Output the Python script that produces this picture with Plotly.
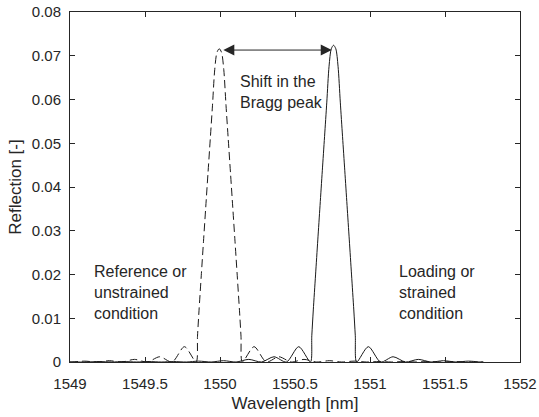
import plotly.graph_objects as go

# ---------------- data ----------------
# Solid curve: loading / strained condition
strained_wl = [
    1549.000, 1549.111, 1549.194, 1549.277, 1549.360, 1549.443, 1549.526, 1549.609,
    1549.692, 1549.775, 1549.858, 1549.941, 1550.024, 1550.107, 1550.192, 1550.277,
    1550.360, 1550.443, 1550.525,
    1550.603, 1550.612, 1550.622, 1550.637, 1550.652, 1550.667, 1550.682, 1550.697,
    1550.712, 1550.727, 1550.742, 1550.757, 1550.772, 1550.787, 1550.802, 1550.817,
    1550.832, 1550.847, 1550.862, 1550.877, 1550.892, 1550.902, 1550.911,
    1550.989, 1551.071, 1551.154, 1551.237, 1551.322, 1551.407, 1551.490, 1551.573,
    1551.656, 1551.739, 1551.755,
]
strained_r = [
    0.0000, 0.0000, 0.0001, 0.0000, 0.0001, 0.0000, 0.0001, 0.0000,
    0.0001, 0.0000, 0.0002, 0.0000, 0.0003, 0.0000, 0.0006, 0.0000,
    0.0012, 0.0000, 0.0035,
    0.0000, 0.0060, 0.0119, 0.0199, 0.0279, 0.0358, 0.0437, 0.0515,
    0.0594, 0.0676, 0.0716, 0.0724, 0.0716, 0.0676, 0.0594, 0.0515,
    0.0437, 0.0358, 0.0279, 0.0199, 0.0119, 0.0060, 0.0000,
    0.0035, 0.0000, 0.0012, 0.0000, 0.0006, 0.0000, 0.0003, 0.0000,
    0.0002, 0.0000, 0.0000,
]

# Dashed curve: reference / unstrained condition
reference_wl = [
    1549.000, 1549.013, 1549.096, 1549.179, 1549.262, 1549.345, 1549.430, 1549.515,
    1549.598, 1549.681, 1549.763,
    1549.841, 1549.850, 1549.860, 1549.875, 1549.890, 1549.905, 1549.920, 1549.935,
    1549.950, 1549.965, 1549.980, 1549.995, 1550.010, 1550.025, 1550.040, 1550.055,
    1550.070, 1550.085, 1550.100, 1550.115, 1550.130, 1550.140, 1550.149,
    1550.227, 1550.309, 1550.392, 1550.475, 1550.560, 1550.645, 1550.728, 1550.811,
    1550.894, 1550.977, 1551.060, 1551.143, 1551.226, 1551.309, 1551.392, 1551.475,
    1551.558, 1551.641, 1551.720, 1551.755,
]
reference_r = [
    0.0000, 0.0000, 0.0002, 0.0000, 0.0003, 0.0000, 0.0006, 0.0000,
    0.0012, 0.0000, 0.0035,
    0.0000, 0.0059, 0.0117, 0.0197, 0.0276, 0.0354, 0.0432, 0.0509,
    0.0587, 0.0669, 0.0708, 0.0716, 0.0708, 0.0669, 0.0587, 0.0509,
    0.0432, 0.0354, 0.0276, 0.0197, 0.0117, 0.0059, 0.0000,
    0.0035, 0.0000, 0.0012, 0.0000, 0.0006, 0.0000, 0.0003, 0.0000,
    0.0002, 0.0000, 0.0001, 0.0000, 0.0001, 0.0000, 0.0001, 0.0000,
    0.0001, 0.0000, 0.0000, 0.0000,
]

x_ticks = [1549, 1549.5, 1550, 1550.5, 1551, 1551.5, 1552]
x_tick_labels = ["1549", "1549.5", "1550", "1550.5", "1551", "1551.5", "1552"]
y_ticks = [0, 0.01, 0.02, 0.03, 0.04, 0.05, 0.06, 0.07, 0.08]
y_tick_labels = ["0", "0.01", "0.02", "0.03", "0.04", "0.05", "0.06", "0.07", "0.08"]

shift_start = 1550.012
shift_end = 1550.745
shift_level = 0.0713

# ---------------- figure ----------------
AX = "#262626"
FONT = "Liberation Sans, Arial, sans-serif"

fig = go.Figure()
fig.add_trace(go.Scatter(
    x=reference_wl, y=reference_r, mode="lines",
    line=dict(color="#1a1a1a", width=1, dash="8px,4px", shape="spline", smoothing=0.8),
    showlegend=False, hoverinfo="skip",
))
fig.add_trace(go.Scatter(
    x=strained_wl, y=strained_r, mode="lines",
    line=dict(color="#1a1a1a", width=1, shape="spline", smoothing=0.8),
    showlegend=False, hoverinfo="skip",
))

# double arrow: shift in the Bragg peak
fig.add_annotation(
    x=shift_end, y=shift_level, ax=shift_start, ay=shift_level,
    xref="x", yref="y", axref="x", ayref="y", text="",
    showarrow=True, arrowhead=2, startarrowhead=2, arrowside="end+start",
    arrowsize=2.2, startarrowsize=2.2, arrowwidth=1, arrowcolor=AX,
    standoff=0, startstandoff=0,
)

txt_font = dict(family=FONT, size=16, color=AX)
fig.add_annotation(x=1550.118, y=0.0617, xref="x", yref="y",
                   text="Shift in the<br>Bragg peak", showarrow=False,
                   xanchor="left", yanchor="middle", align="left", font=txt_font)
fig.add_annotation(x=1549.147, y=0.0160, xref="x", yref="y",
                   text="Reference or<br>unstrained<br>condition", showarrow=False,
                   xanchor="left", yanchor="middle", align="left", font=txt_font)
fig.add_annotation(x=1551.180, y=0.0160, xref="x", yref="y",
                   text="Loading or<br>strained<br>condition", showarrow=False,
                   xanchor="left", yanchor="middle", align="left", font=txt_font)

fig.update_layout(
    width=539, height=417,
    margin=dict(l=70, r=19, t=12, b=55, autoexpand=False),
    paper_bgcolor="white", plot_bgcolor="white",
    font=dict(family=FONT, size=15, color=AX),
    showlegend=False,
)
fig.update_xaxes(
    range=[1549, 1552], tickvals=x_ticks, ticktext=x_tick_labels,
    ticks="inside", ticklen=5, tickwidth=1, tickcolor=AX,
    showline=True, linecolor=AX, linewidth=1, mirror="ticks",
    showgrid=False, zeroline=False, ticklabelstandoff=8,
    tickfont=dict(family=FONT, size=15, color=AX),
    title=dict(text="Wavelength [nm]", font=dict(family=FONT, size=17, color=AX), standoff=6),
)
fig.update_yaxes(
    range=[0, 0.08], tickvals=y_ticks, ticktext=y_tick_labels,
    ticks="inside", ticklen=5, tickwidth=1, tickcolor=AX,
    showline=True, linecolor=AX, linewidth=1, mirror="ticks",
    showgrid=False, zeroline=False, ticklabelstandoff=5,
    tickfont=dict(family=FONT, size=15, color=AX),
    title=dict(text="Reflection [-]", font=dict(family=FONT, size=17, color=AX), standoff=5),
)

fig.write_html(
    "out.html",
    config={"displayModeBar": False, "staticPlot": True},
    post_script="document.body.style.margin='0px';document.body.style.overflow='hidden';",
)
